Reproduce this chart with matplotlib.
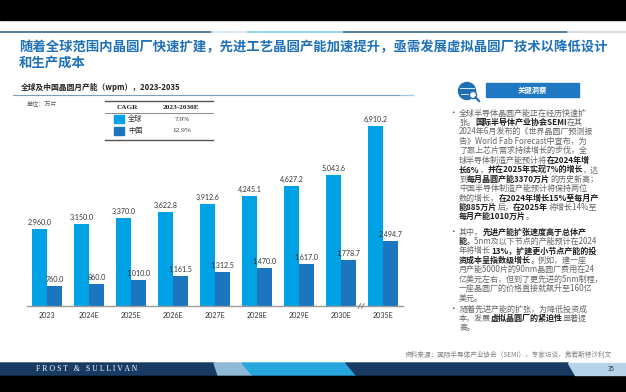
import matplotlib
matplotlib.use("Agg")
import matplotlib.pyplot as plt
from matplotlib.patches import Rectangle, Polygon, Circle

plt.rcParams['font.family'] = ['Noto Sans CJK SC', 'DejaVu Sans']

# ---------------- data ----------------
years = ['2023', '2024E', '2025E', '2026E', '2027E', '2028E', '2029E', '2030E', '2035E']
global_vals = [2960.0, 3150.0, 3370.0, 3622.8, 3912.6, 4245.1, 4627.2, 5043.6, 6910.2]
china_vals = [760.0, 860.0, 1010.0, 1161.5, 1312.5, 1470.0, 1617.0, 1778.7, 2494.7]
cagr_names = ['全球', '中国']
cagr_values = ['7.9%', '12.9%']

title_lines = ['随着全球范围内晶圆厂快速扩建，先进工艺晶圆产能加速提升，亟需发展虚拟晶圆厂技术以降低设计',
               '和生产成本']
chart_title = '全球及中国晶圆月产能（wpm），2023-2035'
unit_text = '单位：万片'
source_text = '资料来源：国际半导体产业协会（SEMI），专家访谈，弗若斯特沙利文'

bullets = [
    [[('全球半导体晶圆产能正在经历快速扩', 0)],
     [('张。', 0), ('国际半导体产业协会SEMI', 1), ('在其', 0)],
     [('2024年6月发布的《世界晶圆厂预测报', 0)],
     [('告》World Fab Forecast中宣布，为', 0)],
     [('了跟上芯片需求持续增长的步伐，全', 0)],
     [('球半导体制造产能预计将', 0), ('在2024年增', 1)],
     [('长6%', 1), ('，', 0), ('并在2025年实现7%的增长', 1), ('，达', 0)],
     [('到', 0), ('每月晶圆产能3370万片', 1), ('的历史新高；', 0)],
     [('中国半导体制造产能预计将保持两位', 0)],
     [('数的增长，', 0), ('在2024年增长15%至每月产', 1)],
     [('能885万片', 1), ('后，', 0), ('在2025年', 1), ('将增长14%至', 0)],
     [('每月产能1010万片', 1), ('。', 0)]],
    [[('其中，', 0), ('先进产能扩张速度高于总体产', 1)],
     [('能', 1), ('。5nm及以下节点的产能预计在2024', 0)],
     [('年将增长', 0), ('13%，扩建更小节点产能的投', 1)],
     [('资成本呈指数级增长', 1), ('。例如，建一座', 0)],
     [('月产能5000片的90nm晶圆厂费用在24', 0)],
     [('亿美元左右，但到了更先进的5nm制程，', 0)],
     [('一座晶圆厂的价格直接就飙升至160亿', 0)],
     [('美元。', 0)]],
    [[('随着先进产能的扩张，为降低投资成', 0)],
     [('本，发展', 0), ('虚拟晶圆厂的紧迫性', 1), ('显著提', 0)],
     [('高。', 0)]],
]

C_GLOBAL = '#00a2e6'
C_CHINA = '#1b76bf'
W, H = 626, 392

fig = plt.figure(figsize=(W / 100, H / 100), dpi=100)
fig.patch.set_facecolor('white')

bg = fig.add_axes([0, 0, 1, 1])
bg.set_xlim(0, W)
bg.set_ylim(H, 0)
bg.axis('off')

# black bands
bg.add_patch(Rectangle((0, 0), W, 20, color='black', zorder=1))
bg.add_patch(Rectangle((0, 375), W, 17, color='black', zorder=1))

# top rule
ry = 31.5
bg.plot([0, 212], [ry, ry], color='#4a7394', lw=1.3)
bg.plot([212, 248], [ry, ry], color='#d9e6ef', lw=1.3)
bg.plot([248, 344], [ry, ry], color='#8fd3f0', lw=1.3)
bg.plot([344, 568], [ry, ry], color='#4a7394', lw=1.3)
bg.plot([568, 626], [ry, ry], color='#d0d8de', lw=1.3)

# title
bg.text(19, 47, title_lines[0], fontsize=9.6, fontweight='bold', color='#1e70b8', va='center', ha='left')
bg.text(19, 63, title_lines[1], fontsize=9.6, fontweight='bold', color='#1e70b8', va='center', ha='left')

# chart subtitle & underline
bg.text(21, 87, chart_title, fontsize=5.6, fontweight='bold', color='#222222', va='center', ha='left')
bg.plot([13, 413], [95, 95], color='#7d9bbb', lw=0.8)
bg.text(27, 103, unit_text, fontsize=4.4, color='#555555', va='center', ha='left')

# CAGR table
bg.plot([105, 213], [101, 101], color='#555555', lw=1.0)
bg.plot([105, 213], [113, 113], color='#777777', lw=0.6)
bg.plot([105, 213], [139.5, 139.5], color='#555555', lw=1.0)
bg.text(127, 107, 'CAGR', fontsize=5.2, fontweight='bold', family='Liberation Serif', color='#222', ha='center', va='center')
bg.text(181, 107, '2023-2030E', fontsize=5.2, fontweight='bold', family='Liberation Serif', color='#222', ha='center', va='center')
for i, (nm, v, c) in enumerate(zip(cagr_names, cagr_values, [C_GLOBAL, C_CHINA])):
    yy = 119 + 12 * i
    bg.add_patch(Rectangle((114, yy - 4), 10, 8, color=c))
    bg.text(128, yy, nm, fontsize=5.2, color='#333', ha='left', va='center')
    bg.text(182, yy, v, fontsize=5.2, family='Liberation Serif', color='#333', ha='center', va='center')

# ---------------- chart ----------------
px_per_unit = 42.0
left_px, right_px, base_px, top_px = 27, 403, 306, 110
ax = fig.add_axes([left_px / W, (H - base_px) / H, (right_px - left_px) / W, (base_px - top_px) / H])
ax.set_facecolor('none')
x0 = (left_px - 47) / px_per_unit
x1 = (right_px - 47) / px_per_unit
ax.set_xlim(x0, x1)
ax.set_ylim(0, (base_px - top_px) / 0.026)
xs = list(range(len(years)))
bw = 15 / px_per_unit
ax.bar([x - bw / 2 for x in xs], global_vals, bw, color=C_GLOBAL, zorder=2)
ax.bar([x + bw / 2 for x in xs], china_vals, bw, color=C_CHINA, zorder=2)
for x, g, c in zip(xs, global_vals, china_vals):
    ax.annotate(f'{g:,.1f}', (x - bw / 2, g), xytext=(0, 2.2), textcoords='offset points',
                ha='center', va='bottom', fontsize=5.1, family='Lato', color='#333333')
    ax.annotate(f'{c:,.1f}', (x + bw / 2, c), xytext=(0, 2.2), textcoords='offset points',
                ha='center', va='bottom', fontsize=5.1, family='Lato', color='#333333')
for s in ['top', 'right', 'left']:
    ax.spines[s].set_visible(False)
ax.spines['bottom'].set_color('#9a9a9a')
ax.spines['bottom'].set_linewidth(1.0)
ax.set_yticks([])
ax.set_xticks(xs)
ax.set_xticklabels(years, fontsize=5.1, family='Lato', color='#333333')
ax.tick_params(axis='x', length=0, pad=4)
# axis break marks
for dx in (-0.04, 0.04):
    ax.plot([7.48 + dx - 0.03, 7.48 + dx + 0.03], [-90, 90], color='#777777', lw=0.7, clip_on=False, zorder=3)

# ---------------- right panel ----------------
bg.add_patch(Circle((467, 91), 8.5, color='#1f6fb5', zorder=2))
bg.plot([460, 474], [88, 88], color='white', lw=0.6, zorder=3)
bg.plot([461, 473], [94, 94], color='white', lw=0.6, zorder=3)
bg.add_patch(Circle((473, 95), 3.6, facecolor='white', edgecolor='#1f6fb5', lw=1.0, zorder=4))
bg.plot([475.5, 479], [97.5, 101], color='#1f6fb5', lw=1.6, zorder=4)
bg.add_patch(Rectangle((486, 83), 93, 14, color='#1f78c1', zorder=2))
bg.text(532.5, 90, '关键洞察', fontsize=5.3, fontweight='bold', color='white', ha='center', va='center', zorder=3)
bg.plot([400, 413], [95, 95], color='#9cc7e6', lw=0.8)

fig.canvas.draw()
renderer = fig.canvas.get_renderer()
line_h = 9.45
starts = [113, 232, 309]
for b, y0 in zip(bullets, starts):
    bg.text(453.5, y0, '•', fontsize=5.5, color='#333', ha='center', va='center')
    for k, segs in enumerate(b):
        xx = 459
        yy = y0 + k * line_h
        for txt, bold in segs:
            t = bg.text(xx, yy, txt, fontsize=5.8, fontweight='bold' if bold else 'normal',
                        color='#1e1e1e' if bold else '#666666', ha='left', va='center')
            xx += t.get_window_extent(renderer=renderer).width

# source
bg.text(612, 355, source_text, fontsize=4.8, color='#808080', ha='right', va='center', style='italic')

# bottom banner
bt, bb_ = 363, 375
bg.add_patch(Polygon([(0, bt), (214, bt), (218, bb_), (0, bb_)], closed=True, color='#193a63'))
bg.add_patch(Polygon([(214, bt), (242, bt), (252, bb_), (218, bb_)], closed=True, color='#8fb9d6'))
bg.add_patch(Polygon([(242, bt), (346, bt), (356, bb_), (252, bb_)], closed=True, color='#27a6de'))
bg.add_patch(Polygon([(346, bt), (568, bt), (575, bb_), (356, bb_)], closed=True, color='#193a63'))
bg.add_patch(Polygon([(568, bt), (626, bt), (626, bb_), (575, bb_)], closed=True, color='#b7d3ea'))
bg.text(36, 369, 'F R O S T   &   S U L L I V A N', fontsize=5.6, family='Liberation Serif',
        color='white', ha='left', va='center')
bg.text(611, 369, '35', fontsize=4.5, color='#333', ha='center', va='center')

fig.savefig('out.png', dpi=100, facecolor='white')
